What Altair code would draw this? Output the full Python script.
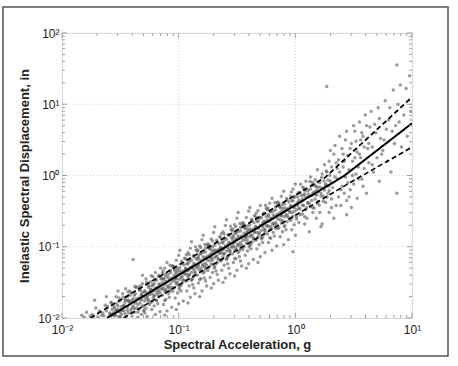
import altair as alt
import pandas as pd

# ---- scatter cloud as (log10 Sa [g], log10 Sd [in]) ----
cloud_a = [
    (-1.83,-1.96),(-1.79,-1.92),(-1.76,-1.97),(-1.81,-1.99),
    (-1.72,-1.75),(-1.74,-1.95),(-1.68,-1.90),(-1.66,-1.96),(-1.71,-1.86),(-1.69,-1.99),(-1.65,-1.93),(-1.73,-1.98),
    (-1.64,-1.97),(-1.62,-1.90),(-1.61,-1.84),(-1.59,-1.95),(-1.58,-1.78),(-1.57,-1.88),(-1.63,-1.82),(-1.56,-1.93),
    (-1.60,-1.99),(-1.55,-1.86),(-1.62,-1.70),(-1.58,-1.97),
    (-1.54,-1.96),(-1.53,-1.80),(-1.52,-1.88),(-1.51,-1.72),(-1.50,-1.92),(-1.49,-1.84),(-1.48,-1.66),(-1.47,-1.90),
    (-1.46,-1.78),(-1.45,-1.98),(-1.52,-1.62),(-1.49,-1.95),(-1.47,-1.83),(-1.53,-1.89),(-1.46,-1.74),(-1.50,-1.99),
    (-1.44,-1.85),(-1.44,-1.70),(-1.43,-1.93),(-1.42,-1.78),(-1.42,-1.62),(-1.41,-1.88),(-1.40,-1.75),(-1.40,-1.97),
    (-1.39,-1.18),(-1.39,-1.83),(-1.38,-1.68),(-1.38,-1.92),(-1.37,-1.79),(-1.37,-1.57),(-1.36,-1.86),(-1.36,-1.73),
    (-1.35,-1.99),(-1.41,-1.65),(-1.35,-1.81),(-1.43,-1.76),
    (-1.34,-1.72),(-1.34,-1.88),(-1.33,-1.60),(-1.33,-1.79),(-1.32,-1.95),(-1.32,-1.67),(-1.31,-1.52),(-1.31,-1.83),
    (-1.30,-1.70),(-1.30,-1.90),(-1.29,-1.62),(-1.29,-1.76),(-1.28,-1.45),(-1.28,-1.86),(-1.27,-1.68),(-1.27,-1.98),
    (-1.26,-1.57),(-1.26,-1.74),(-1.25,-1.81),(-1.25,-1.64),(-1.31,-1.40),(-1.29,-1.93),(-1.33,-1.55),(-1.27,-1.71),
    (-1.24,-1.60),(-1.24,-1.78),(-1.24,-1.49),(-1.23,-1.66),(-1.23,-1.88),(-1.23,-1.55),(-1.22,-1.72),(-1.22,-1.42),
    (-1.22,-1.61),(-1.21,-1.83),(-1.21,-1.52),(-1.21,-1.69),(-1.20,-1.58),(-1.20,-1.95),(-1.20,-1.36),(-1.19,-1.64),
    (-1.19,-1.75),(-1.19,-1.47),(-1.18,-1.57),(-1.18,-1.80),(-1.17,-1.62),(-1.17,-1.40),(-1.17,-1.70),(-1.16,-1.53),
    (-1.16,-1.91),(-1.15,-1.59),(-1.15,-1.44),(-1.18,-1.67),
    (-1.14,-1.50),(-1.14,-1.68),(-1.14,-1.37),(-1.13,-1.58),(-1.13,-1.81),(-1.13,-1.45),(-1.12,-1.62),(-1.12,-1.30),
    (-1.12,-1.53),(-1.11,-1.74),(-1.11,-1.42),(-1.11,-1.60),(-1.10,-1.49),(-1.10,-1.90),(-1.10,-1.22),(-1.09,-1.55),
    (-1.09,-1.66),(-1.09,-1.39),(-1.08,-1.47),(-1.08,-1.71),(-1.07,-1.52),(-1.07,-1.33),(-1.07,-1.61),(-1.06,-1.44),
    (-1.06,-1.85),(-1.06,-1.57),(-1.05,-1.48),(-1.05,-1.27),(-1.08,-1.63),(-1.12,-1.96),
]
cloud_b = [
    (-1.04,-1.40),(-1.04,-1.58),(-1.04,-1.28),(-1.03,-1.49),(-1.03,-1.72),(-1.03,-1.35),(-1.02,-1.52),(-1.02,-1.19),
    (-1.02,-1.43),(-1.01,-1.65),(-1.01,-1.31),(-1.01,-1.50),(-1.00,-1.39),(-1.00,-1.80),(-1.00,-1.12),(-0.99,-1.46),
    (-0.99,-1.56),(-0.99,-1.29),(-0.98,-1.37),(-0.98,-1.62),(-0.97,-1.42),(-0.97,-1.24),(-0.97,-1.51),(-0.96,-1.34),
    (-0.96,-1.76),(-0.96,-1.47),(-0.95,-1.38),(-0.95,-1.16),(-0.98,-1.54),(-1.02,-1.88),(-0.99,-1.05),(-1.03,-1.44),
    (-0.94,-1.30),(-0.94,-1.48),(-0.94,-1.17),(-0.93,-1.39),(-0.93,-1.62),(-0.93,-1.24),(-0.92,-1.42),(-0.92,-1.08),
    (-0.92,-1.33),(-0.91,-1.55),(-0.91,-1.21),(-0.91,-1.40),(-0.90,-1.29),(-0.90,-1.71),(-0.90,-1.02),(-0.89,-1.36),
    (-0.89,-1.47),(-0.89,-1.19),(-0.88,-1.27),(-0.88,-1.53),(-0.87,-1.32),(-0.87,-1.14),(-0.87,-1.41),(-0.86,-1.25),
    (-0.86,-1.66),(-0.86,-1.37),(-0.85,-1.28),(-0.85,-1.05),(-0.88,-1.45),(-0.92,-1.79),(-0.89,-0.93),(-0.93,-1.34),
    (-0.87,-1.58),(-0.91,-1.11),
    (-0.84,-1.18),(-0.84,-1.40),(-0.84,-1.06),(-0.83,-1.27),(-0.83,-1.51),(-0.83,-1.13),(-0.82,-1.33),(-0.82,-0.99),
    (-0.82,-1.22),(-0.81,-1.45),(-0.81,-1.10),(-0.81,-1.30),(-0.80,-1.20),(-0.80,-1.62),(-0.80,-0.90),(-0.79,-1.25),
    (-0.79,-1.37),(-0.79,-1.08),(-0.78,-1.16),(-0.78,-1.44),(-0.77,-1.23),(-0.77,-1.02),(-0.77,-1.31),(-0.76,-1.14),
    (-0.76,-1.55),(-0.76,-1.26),(-0.75,-1.19),(-0.75,-0.96),(-0.78,-1.35),(-0.82,-1.70),(-0.79,-0.84),(-0.83,-1.24),
    (-0.77,-1.48),(-0.81,-1.01),
    (-0.74,-1.12),(-0.74,-1.29),(-0.74,-0.97),(-0.73,-1.20),(-0.73,-1.43),(-0.73,-1.03),(-0.72,-1.25),(-0.72,-0.89),
    (-0.72,-1.11),(-0.71,-1.36),(-0.71,-1.00),(-0.71,-1.19),(-0.70,-1.08),(-0.70,-1.52),(-0.70,-0.80),(-0.69,-1.15),
    (-0.69,-1.28),(-0.69,-0.98),(-0.68,-1.06),(-0.68,-1.34),(-0.67,-1.13),(-0.67,-0.93),(-0.67,-1.22),(-0.66,-1.04),
    (-0.66,-1.47),(-0.66,-1.17),(-0.65,-1.09),(-0.65,-0.86),(-0.68,-1.24),(-0.72,-1.58),(-0.69,-0.72),(-0.73,-1.14),
    (-0.67,-1.39),(-0.71,-0.92),
    (-0.64,-1.01),(-0.64,-1.20),(-0.64,-0.87),(-0.63,-1.09),(-0.63,-1.33),(-0.63,-0.94),(-0.62,-1.14),(-0.62,-0.79),
    (-0.62,-1.03),(-0.61,-1.26),(-0.61,-0.91),(-0.61,-1.10),(-0.60,-0.99),(-0.60,-1.44),(-0.60,-0.70),(-0.59,-1.06),
    (-0.59,-1.18),(-0.59,-0.89),(-0.58,-0.97),(-0.58,-1.24),(-0.57,-1.04),(-0.57,-0.83),(-0.57,-1.12),(-0.56,-0.95),
    (-0.56,-1.38),(-0.56,-1.07),(-0.55,-1.00),(-0.55,-0.76),(-0.58,-1.15),(-0.62,-1.50),(-0.59,-0.62),(-0.63,-1.05),
    (-0.57,-1.30),(-0.61,-0.82),
    (-0.54,-0.90),(-0.54,-1.10),(-0.54,-0.78),(-0.53,-0.99),(-0.53,-1.22),(-0.53,-0.84),(-0.52,-1.05),(-0.52,-0.69),
    (-0.52,-0.93),(-0.51,-1.17),(-0.51,-0.81),(-0.51,-1.01),(-0.50,-0.89),(-0.50,-1.33),(-0.50,-0.60),(-0.49,-0.96),
    (-0.49,-1.08),(-0.49,-0.79),(-0.48,-0.87),(-0.48,-1.14),(-0.47,-0.94),(-0.47,-0.73),(-0.47,-1.03),(-0.46,-0.85),
    (-0.46,-1.27),(-0.46,-0.98),(-0.45,-0.91),(-0.45,-0.66),(-0.48,-1.06),(-0.52,-1.41),(-0.49,-0.52),(-0.53,-0.95),
    (-0.47,-1.20),(-0.51,-0.72),
    (-0.44,-0.81),(-0.44,-1.00),(-0.44,-0.68),(-0.43,-0.90),(-0.43,-1.12),(-0.43,-0.74),(-0.42,-0.95),(-0.42,-0.59),
    (-0.42,-0.84),(-0.41,-1.06),(-0.41,-0.71),(-0.41,-0.91),(-0.40,-0.79),(-0.40,-1.24),(-0.40,-0.50),(-0.39,-0.86),
    (-0.39,-0.98),(-0.39,-0.69),(-0.38,-0.77),(-0.38,-1.03),(-0.37,-0.84),(-0.37,-0.63),(-0.37,-0.93),(-0.36,-0.75),
    (-0.36,-1.18),(-0.36,-0.88),(-0.35,-0.80),(-0.35,-0.56),(-0.38,-0.96),(-0.42,-1.30),(-0.39,-0.45),(-0.43,-0.86),
    (-0.34,-0.72),(-0.34,-0.91),(-0.34,-0.58),(-0.33,-0.80),(-0.33,-1.03),(-0.33,-0.64),(-0.32,-0.86),(-0.32,-0.49),
    (-0.32,-0.74),(-0.31,-0.97),(-0.31,-0.61),(-0.31,-0.82),(-0.30,-0.70),(-0.30,-1.14),(-0.30,-0.42),(-0.29,-0.77),
    (-0.29,-0.89),(-0.29,-0.59),(-0.28,-0.67),(-0.28,-0.94),(-0.27,-0.75),(-0.27,-0.53),(-0.27,-0.83),(-0.26,-0.65),
    (-0.26,-1.08),(-0.26,-0.79),(-0.25,-0.70),(-0.25,-0.46),(-0.28,-0.87),(-0.32,-1.22),
    (-0.24,-0.62),(-0.24,-0.82),(-0.24,-0.48),(-0.23,-0.71),(-0.23,-0.94),(-0.23,-0.55),(-0.22,-0.76),(-0.22,-0.39),
    (-0.22,-0.64),(-0.21,-0.88),(-0.21,-0.51),(-0.21,-0.72),(-0.20,-0.60),(-0.20,-1.05),(-0.20,-0.32),(-0.19,-0.67),
    (-0.19,-0.80),(-0.19,-0.50),(-0.18,-0.58),(-0.18,-0.85),(-0.17,-0.66),(-0.17,-0.44),(-0.17,-0.74),(-0.16,-0.55),
    (-0.16,-0.99),(-0.16,-0.69),(-0.15,-0.61),(-0.15,-0.37),
    (-0.14,-0.53),(-0.14,-0.73),(-0.14,-0.39),(-0.13,-0.62),(-0.13,-0.86),(-0.13,-0.45),(-0.12,-0.67),(-0.12,-0.29),
    (-0.12,-0.55),(-0.11,-0.79),(-0.11,-0.41),(-0.11,-0.63),(-0.10,-0.51),(-0.10,-0.97),(-0.10,-0.22),(-0.09,-0.58),
    (-0.09,-0.71),(-0.09,-0.40),(-0.08,-0.49),(-0.08,-0.76),(-0.07,-0.56),(-0.07,-0.34),(-0.07,-0.65),(-0.06,-0.46),
    (-0.06,-0.90),(-0.05,-0.52),
]
cloud_c = [
    (-0.04,-0.43),(-0.04,-0.63),(-0.04,-0.29),(-0.03,-0.52),(-0.03,-0.76),(-0.03,-0.35),(-0.02,-0.57),(-0.02,-1.07),
    (-0.02,-0.19),(-0.01,-0.45),(-0.01,-0.69),(-0.01,-0.31),(0.00,-0.41),(0.00,-0.84),(0.00,-0.12),(0.01,-0.48),
    (0.01,-0.61),(0.02,-0.30),(0.02,-0.38),(0.03,-0.66),(0.03,-0.46),(0.04,-0.24),(0.04,-0.55),(0.05,-0.36),
    (0.06,-0.33),(0.06,-0.54),(0.07,-0.18),(0.07,-0.42),(0.08,-0.68),(0.08,-0.26),(0.09,-0.48),(0.09,-0.08),
    (0.10,-0.31),(0.10,-0.60),(0.11,-0.21),(0.11,-0.38),(0.12,-0.29),(0.12,-0.79),(0.13,-0.02),(0.13,-0.44),
    (0.14,-0.14),(0.14,-0.35),(0.15,-0.52),(0.15,-0.25),
    (0.16,-0.23),(0.16,-0.46),(0.17,-0.06),(0.17,-0.33),(0.18,-0.60),(0.18,-0.15),(0.19,-0.39),(0.19,0.08),
    (0.20,-0.22),(0.21,-0.52),(0.21,-0.10),(0.22,-0.29),(0.22,-0.72),(0.23,-0.68),(0.23,0.02),(0.24,-0.36),
    (0.24,-0.18),(0.25,0.15),
    (0.26,-0.12),(0.26,-0.38),(0.27,1.25),(0.27,0.05),(0.28,-0.25),(0.29,-0.52),(0.29,0.20),(0.30,-0.08),
    (0.31,-0.33),(0.31,0.12),(0.32,-0.17),(0.33,-0.60),(0.33,0.30),(0.34,-0.02),(0.35,-0.42),(0.35,0.18),
    (0.36,-0.05),(0.37,-0.30),(0.37,0.22),(0.38,0.05),(0.39,-0.42),(0.40,0.38),(0.40,-0.15),(0.41,0.12),
    (0.42,-0.25),(0.43,0.50),(0.43,-0.02),(0.44,-0.55),(0.45,0.28),(0.45,-0.10),
    (0.46,0.08),(0.47,-0.20),(0.48,0.45),(0.49,0.20),(0.50,-0.12),(0.51,0.62),(0.52,0.02),(0.53,-0.32),
    (0.53,0.33),(0.54,0.12),(0.55,0.75),
    (0.56,0.25),(0.57,-0.05),(0.58,0.55),(0.59,0.10),(0.60,0.85),(0.61,-0.25),(0.62,0.38),(0.63,0.18),(0.64,0.68),
    (0.66,0.40),(0.67,0.05),(0.68,0.72),(0.70,0.25),(0.71,0.95),(0.72,-0.08),(0.73,0.52),(0.74,0.30),
    (0.76,0.50),(0.77,1.05),(0.79,0.20),(0.80,0.78),(0.82,0.05),(0.83,0.62),(0.84,1.20),
    (0.86,0.70),(0.87,1.55),(0.87,-0.25),(0.88,1.00),(0.90,1.27),(0.91,0.40),(0.93,0.85),
    (0.95,1.22),(0.96,0.55),(0.98,1.40),(0.99,0.90),
]
# dense core of the cloud, close to the median line
cloud_core = [
    (-1.51,-1.98),(-1.55,-1.97),(-1.515,-1.91),(-1.57,-1.95),(-1.54,-1.90),(-1.59,-1.93),(-1.52,-1.83),
    (-1.555,-1.84),(-1.505,-1.76),(-1.575,-1.79),(-1.535,-1.70),
    (-1.405,-1.92),(-1.46,-1.94),(-1.44,-1.89),(-1.48,-1.89),(-1.495,-1.88),(-1.41,-1.78),(-1.47,-1.82),
    (-1.43,-1.75),(-1.45,-1.75),(-1.415,-1.68),(-1.475,-1.71),(-1.435,-1.63),(-1.455,-1.59),
    (-1.35,-1.92),(-1.305,-1.835),(-1.38,-1.87),(-1.395,-1.855),(-1.315,-1.745),(-1.33,-1.74),(-1.36,-1.75),
    (-1.32,-1.68),(-1.39,-1.73),(-1.31,-1.64),(-1.37,-1.66),(-1.335,-1.615),(-1.34,-1.59),(-1.355,-1.565),
    (-1.375,-1.555),
    (-1.295,-1.887),(-1.23,-1.772),(-1.26,-1.762),(-1.21,-1.682),(-1.28,-1.722),(-1.25,-1.672),(-1.215,-1.617),
    (-1.27,-1.652),(-1.24,-1.602),(-1.29,-1.632),(-1.22,-1.532),(-1.255,-1.547),(-1.205,-1.467),(-1.275,-1.497),
    (-1.235,-1.407),
    (-1.12,-1.754),(-1.19,-1.754),(-1.105,-1.629),(-1.16,-1.644),(-1.14,-1.594),(-1.18,-1.594),(-1.195,-1.589),
    (-1.11,-1.484),(-1.17,-1.524),(-1.13,-1.454),(-1.15,-1.454),(-1.115,-1.389),(-1.175,-1.419),(-1.135,-1.339),
    (-1.155,-1.299),
    (-1.05,-1.626),(-1.005,-1.541),(-1.08,-1.576),(-1.095,-1.561),(-1.015,-1.451),(-1.03,-1.446),(-1.06,-1.456),
    (-1.02,-1.386),(-1.09,-1.436),(-1.01,-1.346),(-1.07,-1.366),(-1.035,-1.321),(-1.04,-1.296),(-1.055,-1.271),
    (-1.075,-1.261),
    (-0.995,-1.593),(-0.93,-1.478),(-0.96,-1.468),(-0.91,-1.388),(-0.98,-1.428),(-0.95,-1.378),(-0.915,-1.323),
    (-0.97,-1.358),(-0.94,-1.308),(-0.99,-1.338),(-0.92,-1.238),(-0.955,-1.253),(-0.905,-1.173),(-0.975,-1.203),
    (-0.935,-1.113),
    (-0.82,-1.46),(-0.89,-1.46),(-0.805,-1.335),(-0.86,-1.35),(-0.84,-1.30),(-0.88,-1.30),(-0.895,-1.295),
    (-0.81,-1.19),(-0.87,-1.23),(-0.83,-1.16),(-0.85,-1.16),(-0.815,-1.095),(-0.875,-1.125),(-0.835,-1.045),
    (-0.855,-1.005),
    (-0.75,-1.332),(-0.705,-1.247),(-0.78,-1.282),(-0.795,-1.267),(-0.715,-1.157),(-0.73,-1.152),(-0.76,-1.162),
    (-0.72,-1.092),(-0.79,-1.142),(-0.71,-1.052),(-0.77,-1.072),(-0.735,-1.027),(-0.74,-1.002),(-0.755,-0.977),
    (-0.775,-0.967),
    (-0.695,-1.299),(-0.63,-1.184),(-0.66,-1.174),(-0.61,-1.094),(-0.68,-1.134),(-0.65,-1.084),(-0.615,-1.029),
    (-0.67,-1.064),(-0.64,-1.014),(-0.69,-1.044),(-0.62,-0.944),(-0.655,-0.959),(-0.605,-0.879),(-0.675,-0.909),
    (-0.635,-0.819),
    (-0.52,-1.166),(-0.59,-1.166),(-0.505,-1.041),(-0.56,-1.056),(-0.54,-1.006),(-0.58,-1.006),(-0.595,-1.001),
    (-0.51,-0.896),(-0.57,-0.936),(-0.53,-0.866),(-0.55,-0.866),(-0.515,-0.801),(-0.575,-0.831),(-0.535,-0.751),
    (-0.555,-0.711),
    (-0.45,-1.038),(-0.405,-0.953),(-0.48,-0.988),(-0.495,-0.973),(-0.415,-0.863),(-0.43,-0.858),(-0.46,-0.868),
    (-0.42,-0.798),(-0.49,-0.848),(-0.41,-0.758),(-0.47,-0.778),(-0.435,-0.733),(-0.44,-0.708),(-0.455,-0.683),
    (-0.475,-0.673),
    (-0.395,-1.005),(-0.33,-0.89),(-0.36,-0.88),(-0.31,-0.80),(-0.38,-0.84),(-0.35,-0.79),(-0.315,-0.735),
    (-0.37,-0.77),(-0.34,-0.72),(-0.39,-0.75),(-0.32,-0.65),(-0.355,-0.665),(-0.305,-0.585),(-0.375,-0.615),
    (-0.335,-0.525),
    (-0.22,-0.872),(-0.29,-0.872),(-0.205,-0.747),(-0.26,-0.762),(-0.24,-0.712),(-0.28,-0.712),(-0.295,-0.707),
    (-0.21,-0.602),(-0.27,-0.642),(-0.23,-0.572),(-0.25,-0.572),(-0.215,-0.507),(-0.275,-0.537),(-0.235,-0.457),
    (-0.255,-0.417),
    (-0.15,-0.744),(-0.105,-0.659),(-0.18,-0.694),(-0.195,-0.679),(-0.115,-0.569),(-0.13,-0.564),(-0.16,-0.574),
    (-0.12,-0.504),(-0.19,-0.554),(-0.11,-0.464),(-0.17,-0.484),(-0.135,-0.439),(-0.14,-0.414),(-0.155,-0.389),
    (-0.175,-0.379),
    (-0.095,-0.711),(-0.03,-0.596),(-0.06,-0.586),(-0.01,-0.506),(-0.08,-0.546),(-0.05,-0.496),(-0.015,-0.441),
    (-0.07,-0.476),(-0.04,-0.426),(-0.09,-0.456),(-0.02,-0.356),(-0.055,-0.371),(-0.005,-0.291),(-0.075,-0.321),
    (-0.035,-0.231),
    (0.08,-0.578),(0.01,-0.578),(0.095,-0.453),(0.04,-0.468),(0.06,-0.418),(0.02,-0.418),(0.005,-0.413),
    (0.09,-0.308),(0.03,-0.348),(0.07,-0.278),(0.05,-0.278),(0.085,-0.213),(0.025,-0.243),(0.065,-0.163),
    (0.045,-0.123),
    (0.15,-0.45),(0.195,-0.365),(0.12,-0.40),(0.105,-0.385),(0.185,-0.275),(0.17,-0.27),(0.14,-0.28),
    (0.18,-0.21),(0.11,-0.26),(0.19,-0.17),(0.13,-0.19),(0.165,-0.145),(0.16,-0.12),(0.145,-0.095),(0.125,-0.085),
    (0.205,-0.417),(0.27,-0.302),(0.24,-0.292),(0.29,-0.212),(0.22,-0.252),(0.25,-0.202),(0.285,-0.147),
    (0.23,-0.182),(0.26,-0.132),(0.21,-0.162),(0.28,-0.062),(0.245,-0.077),(0.295,0.003),(0.225,-0.027),
    (0.265,0.063),
]
# wider scatter past the knee of the curve (about 2 to 8 g)
cloud_knee = [
    (0.30,0.35),(0.34,0.42),(0.38,0.55),(0.41,0.30),(0.44,0.62),(0.47,0.38),(0.50,0.70),(0.52,0.48),
    (0.55,0.30),(0.57,0.60),(0.59,0.40),(0.36,0.10),(0.42,0.20),(0.46,-0.30),(0.49,0.00),(0.51,0.25),
    (0.54,-0.05),(0.56,0.50),(0.58,-0.15),(0.61,0.70),(0.63,0.45),(0.65,0.90),(0.66,0.15),(0.69,0.60),
    (0.72,0.80),(0.75,0.35),(0.78,0.65),(0.81,0.95),(0.85,0.45),(0.89,0.75),(0.31,-0.45),(0.39,-0.20),
    (0.44,-0.35),(0.48,-0.45),
]

# ---- fitted median and +/- one-sigma bilinear curves (vertices) ----
median_sa = [0.0243, 2.6, 10.0]
median_sd = [0.01, 0.98, 5.4]
upper_sa = [0.0175, 1.8, 10.0]
upper_sd = [0.01, 0.94, 12.6]
lower_sa = [0.0337, 3.0, 10.0]
lower_sd = [0.01, 0.81, 2.5]

# ---- axes ----
x_major = [0.01, 0.1, 1, 10]
x_major_text = ["10⁻²", "10⁻¹", "10⁰", "10¹"]
y_major = [0.01, 0.1, 1, 10, 100]
y_major_text = ["10⁻²", "10⁻¹", "10⁰", "10¹", "10²"]
minor_mult = [2, 3, 4, 5, 6, 7, 8, 9]
x_minor = [m * d for d in [0.01, 0.1, 1] for m in minor_mult]
y_minor = [m * d for d in [0.01, 0.1, 1, 10] for m in minor_mult]

W, H = 350, 285
FONT = "Liberation Sans"

pts = pd.DataFrame(cloud_a + cloud_b + cloud_c + cloud_core + cloud_knee, columns=["lsa", "lsd"])
pts["Sa"] = 10 ** pts["lsa"]
pts["Sd"] = 10 ** pts["lsd"]

lines = pd.concat([
    pd.DataFrame({"Sa": median_sa, "Sd": median_sd, "curve": "median"}),
    pd.DataFrame({"Sa": upper_sa, "Sd": upper_sd, "curve": "upper"}),
    pd.DataFrame({"Sa": lower_sa, "Sd": lower_sd, "curve": "lower"}),
])


def label_expr(vals, texts):
    parts = [f"datum.value == {v} ? '{t}'" for v, t in zip(vals, texts)]
    return " : ".join(parts) + " : ''"


xscale = alt.Scale(type="log", domain=[0.01, 10], nice=False)
yscale = alt.Scale(type="log", domain=[0.01, 100], nice=False)

xaxis = alt.Axis(values=x_major, labelExpr=label_expr(x_major, x_major_text), title="Spectral Acceleration, g",
                 grid=False, ticks=False, domain=False, labelFont=FONT, labelFontSize=12, labelColor="#222",
                 labelPadding=6, labelFlush=False, labelOverlap=False, titleFont=FONT, titleFontSize=13,
                 titleFontWeight="bold", titleColor="#222", titlePadding=3)
yaxis = alt.Axis(values=y_major, labelExpr=label_expr(y_major, y_major_text),
                 title="Inelastic Spectral Displacement, in", grid=False, ticks=False, domain=False,
                 labelFont=FONT, labelFontSize=12, labelColor="#222", labelPadding=3, labelFlush=False,
                 labelOverlap=False, titleFont=FONT, titleFontSize=13, titleFontWeight="bold", titleColor="#222",
                 titlePadding=6)

# dotted decade grid
gx = alt.Chart(pd.DataFrame({"v": x_major})).mark_rule(color="#d2d2d2", strokeDash=[1, 2], strokeWidth=1).encode(
    x=alt.X("v:Q", scale=xscale, axis=xaxis))
gy = alt.Chart(pd.DataFrame({"v": y_major})).mark_rule(color="#d2d2d2", strokeDash=[1, 2], strokeWidth=1).encode(
    y=alt.Y("v:Q", scale=yscale, axis=yaxis))

# inward ticks on all four sides
tick_col = "#a0a0a0"
tick_layers = []
for vals, ln in [(x_major, 5), (x_minor, 3)]:
    df = pd.DataFrame({"v": vals})
    for y0, y1 in [(0, ln), (H, H - ln)]:
        tick_layers.append(alt.Chart(df).mark_rule(color=tick_col, strokeWidth=1).encode(
            x=alt.X("v:Q", scale=xscale), y=alt.value(y0), y2=alt.value(y1)))
for vals, ln in [(y_major, 5), (y_minor, 3)]:
    df = pd.DataFrame({"v": vals})
    for x0, x1 in [(0, ln), (W, W - ln)]:
        tick_layers.append(alt.Chart(df).mark_rule(color=tick_col, strokeWidth=1).encode(
            y=alt.Y("v:Q", scale=yscale), x=alt.value(x0), x2=alt.value(x1)))

scatter = alt.Chart(pts).mark_circle(size=12, color="#5c5c5c", opacity=0.62, clip=True).encode(
    x=alt.X("Sa:Q", scale=xscale),
    y=alt.Y("Sd:Q", scale=yscale))

curves = alt.Chart(lines).mark_line(color="black", clip=True).encode(
    x=alt.X("Sa:Q", scale=xscale),
    y=alt.Y("Sd:Q", scale=yscale),
    detail="curve:N",
    strokeDash=alt.StrokeDash("curve:N", scale=alt.Scale(domain=["median", "upper", "lower"],
                                                          range=[[1, 0], [5, 3], [5, 3]]), legend=None),
    strokeWidth=alt.StrokeWidth("curve:N", scale=alt.Scale(domain=["median", "upper", "lower"],
                                                           range=[2.0, 1.6, 1.6]), legend=None),
)

frame = alt.Chart(pd.DataFrame({"a": [0]})).mark_rect(fill=None, stroke="#555555", strokeWidth=1.5,
                                                      clip=False).encode(
    x=alt.value(-59), x2=alt.value(386), y=alt.value(-26), y2=alt.value(323))

chart = alt.layer(gx, gy, scatter, curves, *tick_layers, frame).properties(
    width=W, height=H,
    autosize=alt.AutoSizeParams(type="none"),
    padding={"left": 62, "top": 33, "right": 46, "bottom": 48},
).configure_view(stroke="#a0a0a0", strokeWidth=1).configure(background="white")

chart.save("out.html", embed_options={"renderer": "svg", "actions": False})
